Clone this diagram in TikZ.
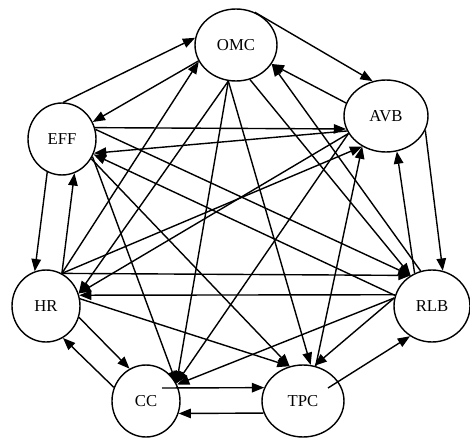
\documentclass[tikz,border=0pt]{standalone}
\usepackage{fontspec}
\setmainfont{Liberation Serif}
\usetikzlibrary{shapes.geometric,arrows.meta}
\begin{document}
\begin{tikzpicture}[x=0.02cm,y=-0.02cm,line width=0.8pt,
		factor/.style={ellipse,draw,inner sep=0pt,minimum height=1.44cm,font=\fontsize{9.5}{11}\selectfont},
		link/.style={-{Triangle[length=7pt,width=5.4pt]}}]
				\useasboundingbox (0,0) rectangle (470,439);
				\node [factor,minimum width=1.64cm] (OMC) at (236,45) {OMC};
				\node [factor,minimum width=1.68cm] (AVB) at (386,116) {AVB};
				\node [factor,minimum width=1.36cm] (EFF) at (62,139) {EFF};
				\node [factor,minimum width=1.36cm] (HR) at (46,306) {HR};
				\node [factor,minimum width=1.36cm] (CC) at (146,401) {CC};
				\node [factor,minimum width=1.64cm] (TPC) at (303,401) {TPC};
				\node [factor,minimum width=1.52cm] (RLB) at (432,306) {RLB};
				\coordinate (ccin) at (162,388);
				\coordinate (tpcin) at (328,388);

				\draw [link] (EFF.88) -- (OMC.170);
				\draw [link] (OMC.203) -- (EFF.29);
				\draw [link] (EFF.19) -- (AVB.198);
				\draw [link] (AVB.201) -- (EFF.336);
				\draw [link] (EFF.16) -- (RLB.125);
				\draw [link] (RLB.164) -- (EFF.334);
				\draw [link] (EFF.246) -- (HR.108);
				\draw [link] (HR.64) -- (EFF.290);
				\draw [link] (EFF.330) -- (CC.30);
				\draw [link] (EFF.326) -- (TPC.111);

				\draw [link] (HR.64) -- (OMC.204);
				\draw [link] (OMC.258) -- (HR.21);
				\draw [link] (HR.64) -- (AVB.232);
				\draw [link] (AVB.205) -- (HR.21);
				\draw [link] (HR.64) -- (RLB.125);
				\draw [link] (RLB.163) -- (HR.18);
				\draw [link] (HR.341) -- (CC.117);
				\draw [link] (CC.157) -- (HR.298);
				\draw [link] (HR.12) -- (TPC.111);

				\draw [link] (OMC.60) -- (AVB.111);
				\draw [link] (AVB.162) -- (OMC.332);
				\draw [link] (OMC.258) -- (CC.30);
				\draw [link] (OMC.258) -- (TPC.78);
				\draw [link] (OMC.292) -- (RLB.125);
				\draw [link] (RLB.108) -- (OMC.332);

				\draw [link] (AVB.340) -- (RLB.73);
				\draw [link] (RLB.118) -- (AVB.287);
				\draw [link] (AVB.205) -- (CC.30);
				\draw [link] (TPC.70) -- (AVB.232);
				\draw [link] (RLB.168) -- (TPC.72);
				\draw [link] (RLB.168) -- (CC.28);
				\draw [link] (tpcin) -- (RLB.234);
				\draw [link] (ccin) -- (TPC.161);
				\draw [link] (TPC.197) -- (CC.339);
			\end{tikzpicture}
\end{document}
